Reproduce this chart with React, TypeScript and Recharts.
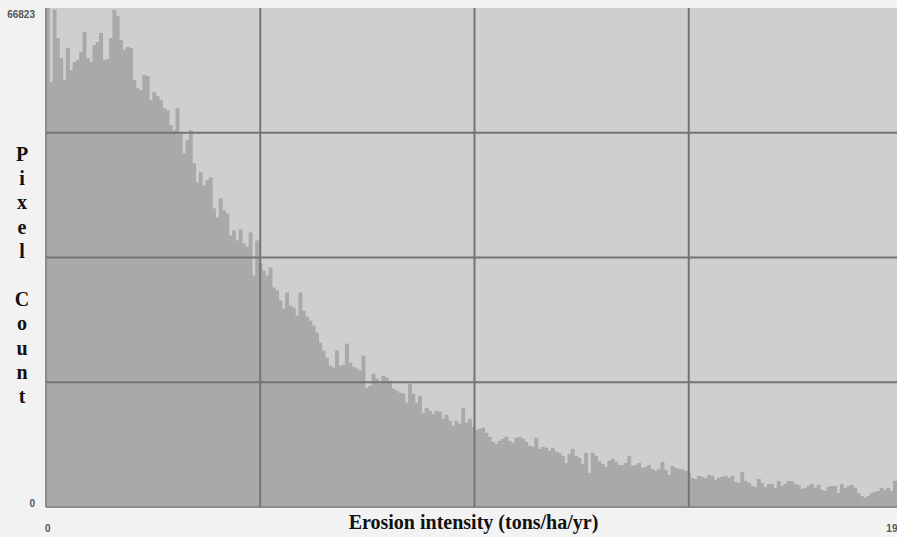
import { BarChart, Bar, XAxis, YAxis, CartesianGrid } from 'recharts';

// pixel count per erosion-intensity bin
const pixelCounts = [
  66823, 56901, 66600, 62806, 60122, 57169, 61464, 58511, 59585, 59853,
  60927, 63611, 60122, 59585, 61866, 62269, 63477, 59853, 59987, 62806,
  66563, 65758, 62537, 61195, 61598, 61464, 57169, 56096, 55827, 57840,
  57706, 54485, 55559, 55022, 54485, 53412, 53143, 51130, 50459, 53412,
  50191, 47373, 49117, 50459, 46031, 43481, 44823, 43078, 43749, 44152,
  39992, 38784, 41334, 39723, 39321, 36368, 37039, 35697, 37173, 35295,
  34892, 36771, 31000, 35697, 32611, 31671, 31000, 32074, 29390, 28987,
  27645, 26572, 28719, 26974, 26706, 25632, 28719, 26303, 25498, 24961,
  24290, 23351, 22009, 20935, 19996, 18922, 18654, 20935, 18922, 19056,
  21875, 19325, 18788, 18520, 18251, 20264, 15970, 16238, 17849, 17178,
  16507, 17580, 17312, 16909, 15836, 15567, 15299, 15200, 13957, 16507,
  15165, 13957, 14896, 12615, 13286, 12883, 12481, 12883, 12749, 11810,
  12346, 11541, 10870, 11541, 11139, 13286, 11273, 11810, 10736, 10333,
  10468, 10602, 9931, 9394, 8723, 8455, 8857, 9126, 9394, 8857,
  8589, 9260, 9394, 9126, 8723, 8186, 8052, 9260, 7784, 8052,
  7918, 7515, 7918, 7381, 7247, 6844, 5905, 7113, 7784, 6844,
  6576, 5771, 7247, 4563, 7247, 6844, 6173, 5771, 5368, 6173,
  6442, 6039, 5636, 5600, 5905, 6844, 5502, 5636, 5905, 5234,
  5368, 5636, 5100, 4831, 5100, 6039, 4965, 4294, 5502, 5234,
  5100, 5050, 4831, 4563, 3892, 3758, 4160, 4026, 3892, 4294,
  4160, 3623, 3892, 4026, 4160, 3892, 4160, 3355, 3221, 4697,
  3489, 3221, 2818, 2684, 3758, 3221, 2684, 3087, 3087, 2550,
  3489, 2818, 3087, 3489, 3450, 3087, 2952, 2416, 2550, 2818,
  3087, 2550, 2952, 2281, 2147, 2684, 2818, 2800, 1879, 3087,
  2550, 2818, 2952, 2550, 1879, 1476, 1208, 1476, 1879, 2013,
  2147, 2550, 2281, 2550, 2147, 3489, 2600, 2300,
];

const xTickBins = [0, 255];
const xTickLabels = ['0', '195'];
const yTickValues = [0, 66823];
const xTitle = 'Erosion intensity (tons/ha/yr)';
const yTitleLetters = ['P', 'i', 'x', 'e', 'l', '', 'C', 'o', 'u', 'n', 't'];

const data = pixelCounts.map((count, bin) => ({ bin, count }));

const YTick = ({ x, y, payload }: any) => (
  <text
    x={x}
    y={y}
    dy={payload.value > 0 ? 9 : 0}
    textAnchor="end"
    fontSize={10}
    fontWeight="bold"
    fill="#555"
    fontFamily="Arial, 'Liberation Sans', sans-serif"
  >
    {payload.value}
  </text>
);

const XTick = ({ x, y, payload }: any) => (
  <text
    x={x}
    y={y}
    dy={23}
    textAnchor="middle"
    fontSize={10}
    fontWeight="bold"
    fill="#555"
    fontFamily="Arial, 'Liberation Sans', sans-serif"
  >
    {xTickLabels[xTickBins.indexOf(payload.value)]}
  </text>
);

// bars touch each other; widen each a little so no light seams show between them
const HistBar = ({ x, y, width, height }: any) => (
  <rect x={x} y={y} width={width + 0.9} height={height} fill="#a9a9a9" />
);

const quarterX = ({ offset }: any) => [1, 2, 3].map((k) => offset.left + (offset.width * k) / 4);
const quarterY = ({ offset }: any) => [1, 2, 3].map((k) => offset.top + (offset.height * k) / 4);

export default function App() {
  const serif = "'Liberation Serif', 'Times New Roman', serif";
  return (
    <div
      style={{
        position: 'absolute',
        left: 0,
        top: 0,
        width: 897,
        height: 537,
        overflow: 'hidden',
        background: '#f2f2f2',
      }}
    >
      <BarChart
        width={903}
        height={537}
        data={data}
        margin={{ top: 8, right: 0, bottom: 0, left: 0 }}
        barCategoryGap={0}
        barGap={0}
      >
        <CartesianGrid fill="#cfcfcf" stroke="none" horizontal={false} vertical={false} />
        <XAxis
          dataKey="bin"
          height={30}
          ticks={xTickBins}
          interval={0}
          tick={<XTick />}
          tickLine={false}
          tickSize={0}
          axisLine={{ stroke: '#8c8c8c', strokeWidth: 2 }}
        />
        <YAxis
          width={46}
          domain={[0, 66823]}
          ticks={yTickValues}
          tick={<YTick />}
          tickLine={false}
          tickSize={0}
          tickMargin={11}
          axisLine={{ stroke: '#8c8c8c', strokeWidth: 2 }}
        />
        <Bar dataKey="count" fill="#a9a9a9" shape={<HistBar />} isAnimationActive={false} />
        <CartesianGrid
          stroke="#747474"
          strokeWidth={2}
          fill="none"
          verticalCoordinatesGenerator={quarterX}
          horizontalCoordinatesGenerator={quarterY}
          zIndex={1000}
        />
      </BarChart>

      <div
        style={{
          position: 'absolute',
          left: 0,
          top: 510,
          width: 947,
          textAlign: 'center',
          fontFamily: serif,
          fontWeight: 'bold',
          fontSize: 20,
          lineHeight: '24px',
          color: '#111',
        }}
      >
        {xTitle}
      </div>

      {yTitleLetters.map((ch, i) => (
        <div
          key={i}
          style={{
            position: 'absolute',
            left: 10,
            width: 24,
            top: 142 + i * 24.2,
            textAlign: 'center',
            fontFamily: serif,
            fontWeight: 'bold',
            fontSize: 20,
            lineHeight: '24px',
            color: '#111',
          }}
        >
          {ch}
        </div>
      ))}
    </div>
  );
}
